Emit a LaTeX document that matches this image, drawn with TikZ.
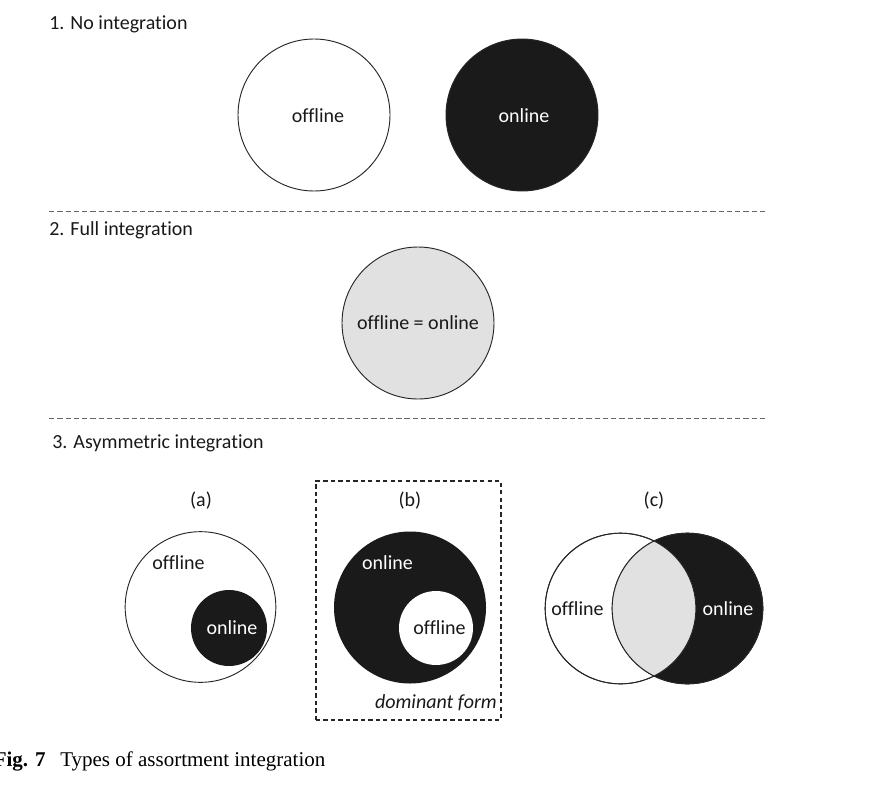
\documentclass[tikz,border=0pt]{standalone}
\usepackage{fontspec}
\setmainfont{Carlito}[Ligatures=NoCommon]
\newfontfamily\capfont{Liberation Serif}
\usetikzlibrary{positioning}
\definecolor{darkfill}{HTML}{1A1A1A}
\definecolor{lightfill}{HTML}{E0E1E0}

\begin{document}
\begin{tikzpicture}[x=0.75pt, y=-0.75pt,
    lbl/.style={font=\fontsize{15}{18}\selectfont, text=black!90, inner sep=0pt},
    head/.style={lbl, anchor=base west},
    ring/.style={circle, draw=black!85, line width=0.7pt, inner sep=0pt},
    sep/.style={draw=black!60, dash pattern=on 4pt off 2.2pt, line width=0.6pt}
]
\useasboundingbox (0,0) rectangle (870,799);

% 1. no integration
\node[head] (h1) at (49,30) {1. No integration};
\node[ring, minimum size=114pt] (off1) at (314,115) {};
\node[ring, fill=darkfill, minimum size=114pt] (on1) at (522,115) {};
\node[lbl, anchor=base] (toff1) at (318,122) {offline};
\node[lbl, anchor=base, text=white] (ton1) at (524,122) {online};
\draw[sep] (49,211) -- (768,211);

% 2. full integration
\node[head] (h2) at (49,235) {2. Full integration};
\node[ring, fill=lightfill, minimum size=114pt] (full) at (418,323) {};
\node[lbl, anchor=base] (tfull) at (418,329) {offline = online};
\draw[sep] (49,418) -- (768,418);

% 3. asymmetric integration
\node[head] (h3) at (52,448) {3. Asymmetric integration};
\node[lbl, anchor=base] (pa) at (201,506) {(a)};
\node[lbl, anchor=base] (pb) at (410,506) {(b)};
\node[lbl, anchor=base] (pc) at (654,506) {(c)};

% (a)
\node[ring, minimum size=113pt] (abig) at (200.5,607) {};
\node[ring, draw=none, fill=darkfill, minimum size=57pt] (asmall) at (229,628) {};
\node[lbl, anchor=base] (taoff) at (178.5,569) {offline};
\node[lbl, anchor=base, text=white] (taon) at (232,634) {online};

% (b)
\node[draw=black!85, dash pattern=on 3.2pt off 2.4pt, line width=0.9pt, minimum width=138.75pt, minimum height=179.25pt, inner sep=0pt] (dom) at (408.5,600.5) {};
\node[ring, draw=none, fill=darkfill, minimum size=114pt] (bbig) at (410,607.5) {};
\node[ring, draw=none, fill=white, minimum size=55.5pt] (bsmall) at (436,628) {};
\node[lbl, anchor=base, text=white] (tbon) at (387.5,569) {online};
\node[lbl, anchor=base] (tboff) at (439.5,634) {offline};
\node[lbl, anchor=base east, font=\fontsize{15}{18}\selectfont\itshape] (tdom) at (497,708) {dominant form};

% (c)
\node[ring, minimum size=113pt] (cleft) at (620.5,608.5) {};
\node[ring, fill=darkfill, minimum size=113pt] (cright) at (687.5,608.5) {};
\begin{scope}
  \clip (620.5,608.5) circle (56.5pt);
  \fill[lightfill] (687.5,608.5) circle (56.5pt);
\end{scope}
\draw[black!85, line width=0.7pt] (620.5,608.5) circle (56.5pt);
\draw[black!85, line width=0.7pt] (687.5,608.5) circle (56.5pt);
\node[lbl, anchor=base] (tcoff) at (577.5,615) {offline};
\node[lbl, anchor=base, text=white] (tcon) at (728,615) {online};

% caption
\node[anchor=base east, inner sep=0pt, font=\fontsize{15.75}{18}\capfont\bfseries] (fig) at (46,766) {Fig. 7};
\node[anchor=base west, inner sep=0pt, font=\fontsize{15.75}{18}\capfont] (cap) at (60,766) {Types of assortment integration};
\end{tikzpicture}
\end{document}
